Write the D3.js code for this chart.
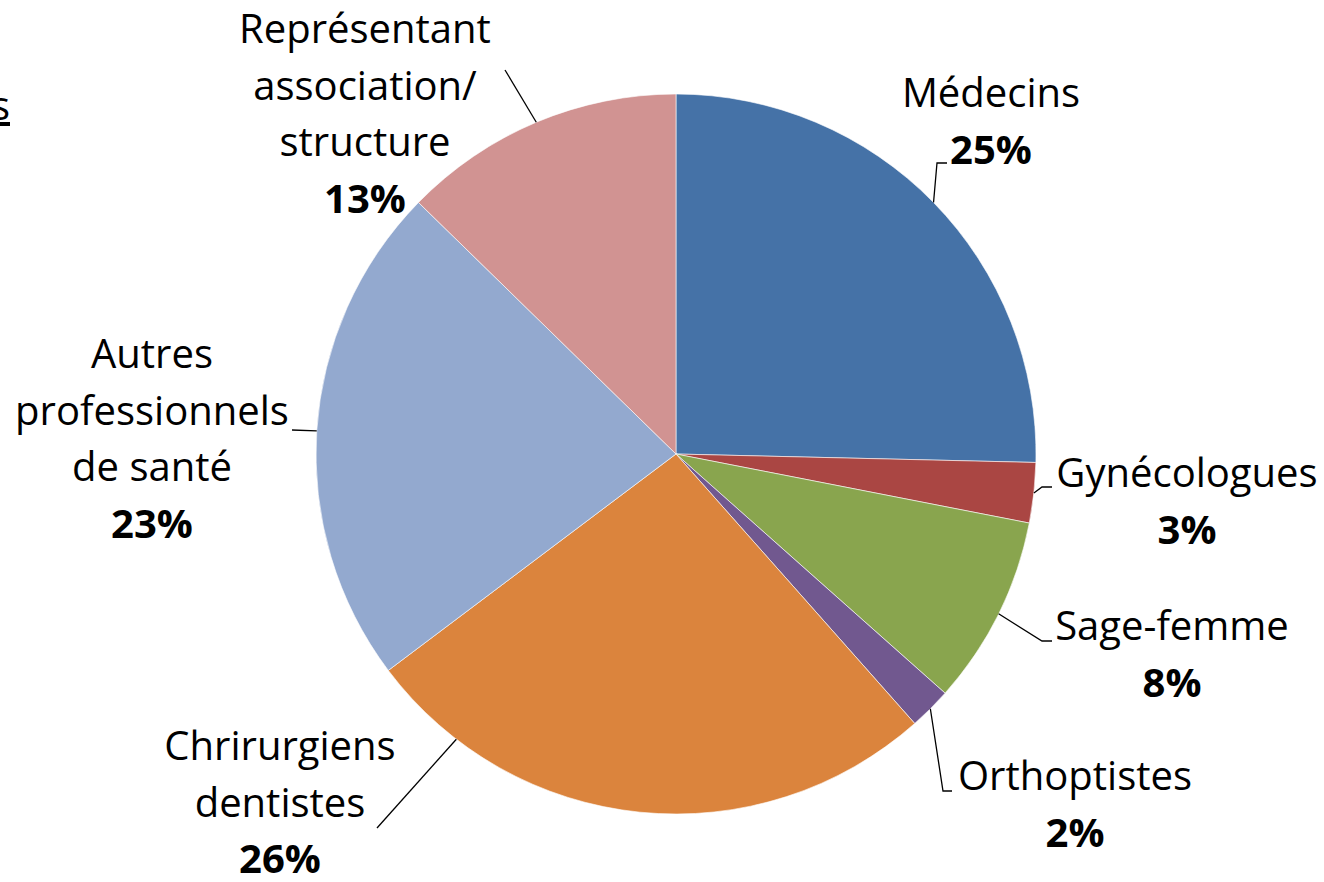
<!DOCTYPE html>
<html>
<head>
<meta charset="utf-8">
<script src="https://cdn.jsdelivr.net/npm/d3@7"></script>
<style>
  body { margin: 0; background: #fff; }
  text { font-family: "Open Sans", sans-serif; fill: #000; }
</style>
</head>
<body>
<div id="chart"></div>
<script>
// data
var categories = ["Médecins", "Gynécologues", "Sage-femme", "Orthoptistes",
                  "Chrirurgiens dentistes", "Autres professionnels de santé",
                  "Représentant association/ structure"];
var values = [25.4, 2.7, 8.5, 1.9, 26.3, 22.6, 12.7];
var percentLabels = ["25%", "3%", "8%", "2%", "26%", "23%", "13%"];
var colors = ["#4572A7", "#AA4643", "#89A54E", "#71588F", "#DB843D", "#93A9CF", "#D19392"];

// label layout (lines of text, centre x, first baseline, leader line)
var labelLines = [
  ["Médecins"],
  ["Gynécologues"],
  ["Sage-femme"],
  ["Orthoptistes"],
  ["Chrirurgiens", "dentistes"],
  ["Autres", "professionnels", "de santé"],
  ["Représentant", "association/", "structure"]
];
var labelPos = [
  {x: 991, y: 107}, {x: 1187, y: 487}, {x: 1172, y: 640}, {x: 1075, y: 790},
  {x: 280, y: 760}, {x: 152, y: 368}, {x: 365, y: 43}
];
// leader: optional start angle override (deg) and the bend points
var leaders = [
  {pts: [[937, 163], [947, 163]]},
  {pts: [[1042, 487], [1052, 487]]},
  {pts: [[1042, 641], [1052, 641]]},
  {pts: [[943, 791], [952, 791]]},
  {angle: 217.6, pts: [[377, 828]]},
  {pts: [[292, 430]]},
  {pts: [[505, 70]]}
];

var width = 1324, height = 882;
var cx = 676, cy = 454, radius = 360;
var lineH = 56.5;

var svg = d3.select("#chart").append("svg")
  .attr("width", width)
  .attr("height", height);

var pie = d3.pie().sort(null).value(function (d) { return d; });
var arcs = pie(values);
var arc = d3.arc().innerRadius(0).outerRadius(radius);

var g = svg.append("g").attr("transform", "translate(" + cx + "," + cy + ")");

g.selectAll("path.slice").data(arcs)
  .enter().append("path")
  .attr("class", "slice")
  .attr("d", arc)
  .attr("fill", function (d, i) { return colors[i]; })
  .attr("stroke", "#fff")
  .attr("stroke-width", 0.6);

// leader lines
var line = d3.line();
svg.selectAll("path.leader").data(arcs)
  .enter().append("path")
  .attr("class", "leader")
  .attr("fill", "none")
  .attr("stroke", "#000")
  .attr("stroke-width", 1.3)
  .attr("d", function (d, i) {
    var a = leaders[i].angle != null ? leaders[i].angle * Math.PI / 180
                                     : (d.startAngle + d.endAngle) / 2;
    var start = [cx + radius * Math.sin(a), cy - radius * Math.cos(a)];
    return line([start].concat(leaders[i].pts));
  });

// labels
var labels = svg.selectAll("g.label").data(arcs)
  .enter().append("g")
  .attr("class", "label");

labels.each(function (d, i) {
  var t = d3.select(this).append("text")
    .attr("text-anchor", "middle")
    .attr("font-size", 40);
  labelLines[i].forEach(function (s, k) {
    t.append("tspan")
      .attr("x", labelPos[i].x)
      .attr("y", labelPos[i].y + k * lineH)
      .text(s);
  });
  t.append("tspan")
    .attr("x", labelPos[i].x)
    .attr("y", labelPos[i].y + labelLines[i].length * lineH)
    .attr("font-weight", "bold")
    .text(percentLabels[i]);
});

// cut-off title fragment at the left edge
svg.append("text")
  .attr("x", 10)
  .attr("y", 120)
  .attr("text-anchor", "end")
  .attr("font-size", 40)
  .attr("text-decoration", "underline")
  .text("s");
</script>
</body>
</html>
